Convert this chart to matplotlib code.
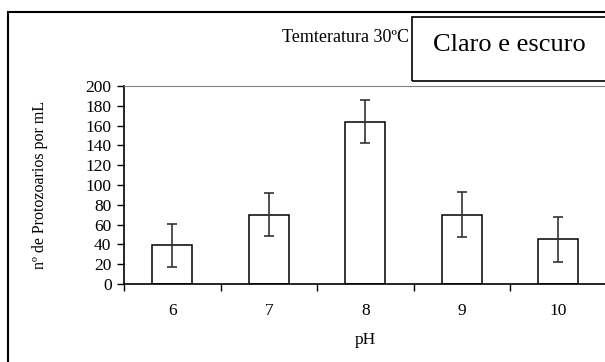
import matplotlib
matplotlib.use("Agg")
import matplotlib.pyplot as plt
import numpy as np
from matplotlib.patches import Rectangle

ph_labels = ["6", "7", "8", "9", "10"]
protozoa = [39, 70, 164, 70, 45]
errors = [22, 22, 22, 22.5, 22.5]

plt.rcParams["font.family"] = ["Liberation Serif", "DejaVu Serif"]

W, H = 605, 362
fig = plt.figure(figsize=(W / 100, H / 100), dpi=100)

# outer chart frame, cut by the right and bottom edges
fig.patches.append(Rectangle((8 / W, -0.2), 1.2, 1.2 - 12 / H,
                             transform=fig.transFigure, fill=False,
                             edgecolor="black", linewidth=1.5))
# box holding the series name
fig.patches.append(Rectangle((412 / W, 1 - 81 / H), 1.0, 64 / H,
                             transform=fig.transFigure, fill=False,
                             edgecolor="black", linewidth=1.2))
fig.text(433 / W, 1 - 45 / H, "Claro e escuro", fontsize=19,
         ha="left", va="center")
fig.text(409 / W, 1 - 38 / H, "Temteratura 30ºC", fontsize=13,
         ha="right", va="center")

ax = fig.add_axes([124 / W, 1 - 284 / H, 482.5 / W, 198 / H])
x = np.arange(len(ph_labels))
ax.bar(x, protozoa, width=0.41, color="white", edgecolor="black",
       linewidth=1.1, zorder=2)
ax.errorbar(x, protozoa, yerr=errors, fmt="none", ecolor="#333333",
            elinewidth=1.2, capsize=3.6, capthick=1.2, zorder=3)

ax.set_xlim(-0.5, len(ph_labels) - 0.5)
ax.set_ylim(0, 200)
ax.set_yticks(np.arange(0, 201, 20))
ax.set_xticks(np.arange(len(ph_labels) + 1) - 0.5)
ax.set_xticklabels([])
ax.set_xticks(x, minor=True)
ax.set_xticklabels(ph_labels, minor=True)
ax.tick_params(axis="x", which="major", direction="out", length=5, width=1)
ax.tick_params(axis="x", which="minor", length=0, pad=14, labelsize=12.5)
ax.tick_params(axis="y", direction="out", length=5, width=1, pad=4,
               labelsize=12.5)

ax.spines["top"].set_color("#808080")
ax.spines["right"].set_visible(False)
for side in ("left", "bottom"):
    ax.spines[side].set_linewidth(1.2)

ax.set_xlabel("pH", fontsize=12.5, labelpad=9)
ax.set_ylabel("nº de Protozoarios por mL", fontsize=11.5, labelpad=27)

fig.savefig("out.png", dpi=100)
